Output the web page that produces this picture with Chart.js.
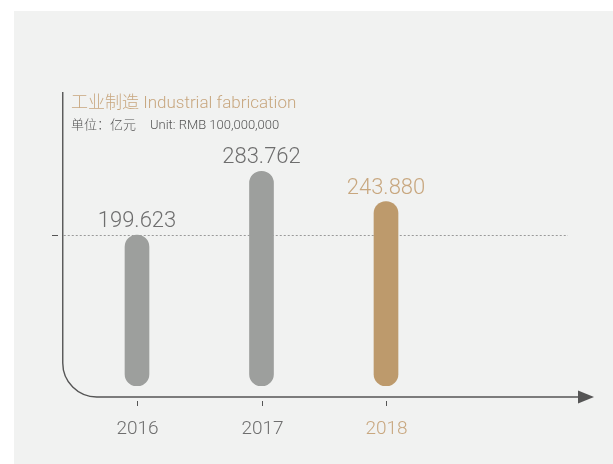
<!DOCTYPE html>
<html>
<head>
<meta charset="utf-8">
<script src="https://cdn.jsdelivr.net/npm/chart.js@4"></script>
<style>
  html, body { margin: 0; padding: 0; background: #ffffff; }
  #wrap { width: 613px; height: 464px; position: relative; }
</style>
</head>
<body>
<div id="wrap"><canvas id="c" width="613" height="464"></canvas></div>
<script>
// Output value of the industrial fabrication sector, 100 million RMB
const years = ['2016', '2017', '2018'];
const values = [199.623, 283.762, 243.880];
const valueLabels = ['199.623', '283.762', '243.880'];
const referenceLine = 200;

const titleCn = '工业制造';
const titleEn = 'Industrial fabrication';
const unitCn = '单位：亿元';
const unitEn = 'Unit: RMB 100,000,000';

const GREY_BAR = '#9d9f9d';
const TAN_BAR = '#bd9a6c';
const GREY_TEXT = '#6e6e6e';
const TAN_TEXT = '#c8a77f';
const AXIS = '#555555';
const FONT = 'Roboto, "Noto Sans CJK SC", sans-serif';

const barColors = years.map((y, i) => i === years.length - 1 ? TAN_BAR : GREY_BAR);
const textColors = years.map((y, i) => i === years.length - 1 ? TAN_TEXT : GREY_TEXT);

const decor = {
  id: 'decor',
  beforeDraw(chart) {
    const ctx = chart.ctx;
    ctx.save();
    ctx.fillStyle = '#ffffff';
    ctx.fillRect(0, 0, chart.width, chart.height);
    ctx.fillStyle = '#f1f2f1';
    ctx.fillRect(14, 11, chart.width - 14, chart.height - 11);

    const xs = chart.scales.x, ys = chart.scales.y;
    const area = chart.chartArea;
    const axisX = area.left - 12;
    const axisY = ys.getPixelForValue(0) + 11;
    const r = 34;

    // dotted reference line with its tick
    const refY = Math.round(ys.getPixelForValue(referenceLine)) + 0.5;
    ctx.strokeStyle = '#9a9a9a';
    ctx.lineWidth = 1;
    ctx.setLineDash([2, 2]);
    ctx.beginPath();
    ctx.moveTo(axisX + 1, refY);
    ctx.lineTo(568, refY);
    ctx.stroke();
    ctx.setLineDash([]);
    ctx.strokeStyle = AXIS;
    ctx.beginPath();
    ctx.moveTo(52, refY);
    ctx.lineTo(58, refY);
    ctx.stroke();

    // rounded L-shaped axis
    ctx.strokeStyle = AXIS;
    ctx.lineWidth = 1.4;
    ctx.beginPath();
    ctx.moveTo(axisX, 92);
    ctx.lineTo(axisX, axisY - r);
    ctx.arcTo(axisX, axisY, axisX + r, axisY, r);
    ctx.lineTo(580, axisY);
    ctx.stroke();
    ctx.fillStyle = AXIS;
    ctx.beginPath();
    ctx.moveTo(578, axisY - 6.5);
    ctx.lineTo(594, axisY);
    ctx.lineTo(578, axisY + 6.5);
    ctx.closePath();
    ctx.fill();

    // category ticks and year labels
    ctx.lineWidth = 1;
    ctx.textAlign = 'center';
    ctx.textBaseline = 'alphabetic';
    ctx.font = '300 19px ' + FONT;
    years.forEach((y, i) => {
      const px = Math.round(xs.getPixelForValue(i)) + 0.5;
      ctx.strokeStyle = AXIS;
      ctx.beginPath();
      ctx.moveTo(px, axisY + 4);
      ctx.lineTo(px, axisY + 9);
      ctx.stroke();
      ctx.fillStyle = textColors[i];
      ctx.fillText(y, px, 434);
    });

    // title and unit
    ctx.textAlign = 'left';
    ctx.fillStyle = TAN_TEXT;
    ctx.font = '300 17px ' + FONT;
    ctx.fillText(titleCn + ' ' + titleEn, 71, 108);
    ctx.fillStyle = '#555555';
    ctx.font = '300 13px ' + FONT;
    ctx.fillText(unitCn, 71, 129);
    const w = ctx.measureText(unitCn).width;
    ctx.fillText(unitEn, 71 + w + 14, 129);
    ctx.restore();
  },
  afterDatasetsDraw(chart) {
    const ctx = chart.ctx;
    const meta = chart.getDatasetMeta(0);
    ctx.save();
    ctx.textAlign = 'center';
    ctx.textBaseline = 'alphabetic';
    ctx.font = '300 22px ' + FONT;
    meta.data.forEach((bar, i) => {
      ctx.fillStyle = textColors[i];
      ctx.fillText(valueLabels[i], bar.x, bar.y - 8);
    });
    ctx.restore();
  }
};

new Chart(document.getElementById('c'), {
  type: 'bar',
  data: {
    labels: years,
    datasets: [{
      data: values,
      backgroundColor: barColors,
      barThickness: 24,
      borderRadius: 12,
      borderSkipped: false
    }]
  },
  options: {
    responsive: false,
    animation: false,
    events: [],
    layout: { padding: { left: 74.75, right: 164.75, top: 83.4, bottom: 78 } },
    plugins: { legend: { display: false }, tooltip: { enabled: false }, title: { display: false } },
    scales: {
      x: { display: false, offset: true },
      y: { display: false, min: 0, max: 400 }
    }
  },
  plugins: [decor]
});
</script>
</body>
</html>
